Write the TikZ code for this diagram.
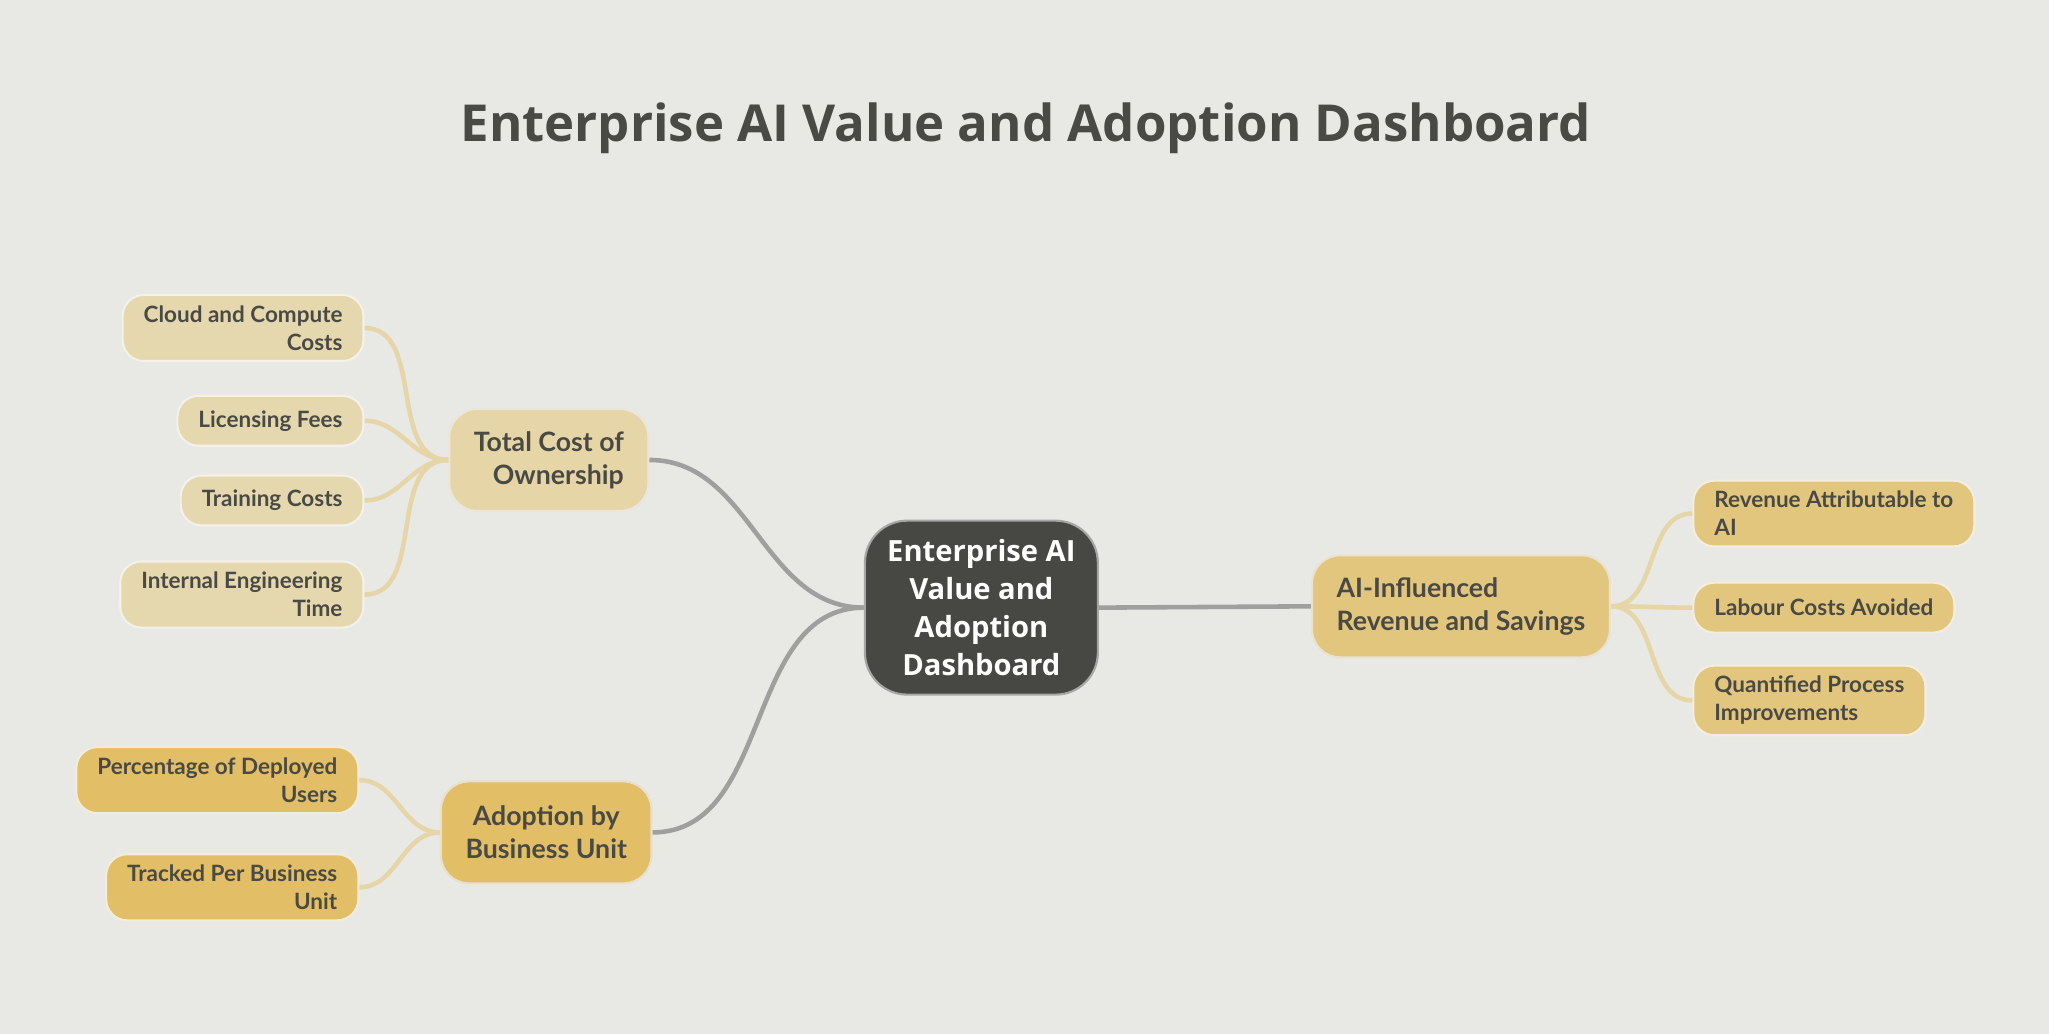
\documentclass[tikz,border=0pt]{standalone}
\usepackage{fontspec}
\setmainfont{Open Sans}
\newfontfamily\leaffont{Lato}
\usetikzlibrary{positioning}
\definecolor{bgcol}{HTML}{E8E8E5}
\definecolor{darkcol}{HTML}{474843}
\definecolor{costcol}{HTML}{E6D6A7}
\definecolor{costleaf}{HTML}{E6D8AE}
\definecolor{adoptcol}{HTML}{E2BE66}
\definecolor{revcol}{HTML}{E3C67D}
\definecolor{textcol}{HTML}{4A4A45}
\begin{document}
\begin{tikzpicture}[x=0.1307mm, y=-0.1307mm,
    branch/.style={draw=#1!80!black!30, fill=#1, rounded corners=8pt, line width=0.6pt,
        text=textcol, font=\leaffont\bfseries\fontsize{7.6}{9.4}\selectfont, inner xsep=7pt, inner ysep=4pt, minimum height=1.02cm},
    leaf/.style={draw=#1!85!black!20, fill=#1, rounded corners=6pt, line width=0.6pt,
        text=textcol, font=\leaffont\bfseries\fontsize{6.4}{8}\selectfont, inner xsep=6pt, inner ysep=3pt, minimum height=0.5cm},
    link/.style={draw=gray!75, line width=1.3pt},
    twig/.style={draw=#1, line width=1.3pt}
]
\fill[bgcol] (0,0) rectangle (1568,791);

% Title
\node[font=\bfseries\fontsize{14.5}{17}\selectfont, text=textcol] (title) at (785,98) {Enterprise AI Value and Adoption Dashboard};

% Centre
\node[draw=gray!70, fill=darkcol, rounded corners=12pt, text=white, align=center, line width=0.6pt,
    font=\bfseries\fontsize{8.3}{10.8}\selectfont, minimum width=2.33cm, minimum height=1.74cm] (root) at (751,465)
    {Enterprise AI\\Value and\\Adoption\\Dashboard};

% Branches
\node[branch=costcol, align=right] (tco) at (420,352) {Total Cost of\\Ownership};
\node[branch=adoptcol, align=center] (adopt) at (418,637) {Adoption by\\Business Unit};
\node[branch=revcol, align=left] (rev) at (1118,464) {AI-Influenced\\Revenue and Savings};

\draw[link] (root.west) to[out=180, in=0] (tco.east);
\draw[link] (root.west) to[out=180, in=0] (adopt.east);
\draw[link] (root.east) -- (rev.west);

% Cost leaves
\node[leaf=costleaf, anchor=east, align=right] (cloud) at (279,251) {Cloud and Compute\\Costs};
\node[leaf=costleaf, anchor=east] (licence) at (279,322) {Licensing Fees};
\node[leaf=costleaf, anchor=east] (training) at (279,383) {Training Costs};
\node[leaf=costleaf, anchor=east, align=right] (engineering) at (279,455) {Internal Engineering\\Time};
\foreach \n in {cloud,licence,training,engineering}
    \draw[twig=costcol] (tco.west) to[out=180, in=0] (\n.east);

% Adoption leaves
\node[leaf=adoptcol, anchor=east, align=right] (deployed) at (275,597) {Percentage of Deployed\\Users};
\node[leaf=adoptcol, anchor=east, align=right] (tracked) at (275,679) {Tracked Per Business\\Unit};
\foreach \n in {deployed,tracked}
    \draw[twig=costcol] (adopt.west) to[out=180, in=0] (\n.east);

% Revenue leaves
\node[leaf=revcol, anchor=west, align=left] (attrib) at (1295,393) {Revenue Attributable to\\AI};
\node[leaf=revcol, anchor=west] (labour) at (1295,465) {Labour Costs Avoided};
\node[leaf=revcol, anchor=west, align=left] (process) at (1295,536) {Quantified Process\\Improvements};
\foreach \n in {attrib,labour,process}
    \draw[twig=costcol] (rev.east) to[out=0, in=180] (\n.west);
\end{tikzpicture}
\end{document}
